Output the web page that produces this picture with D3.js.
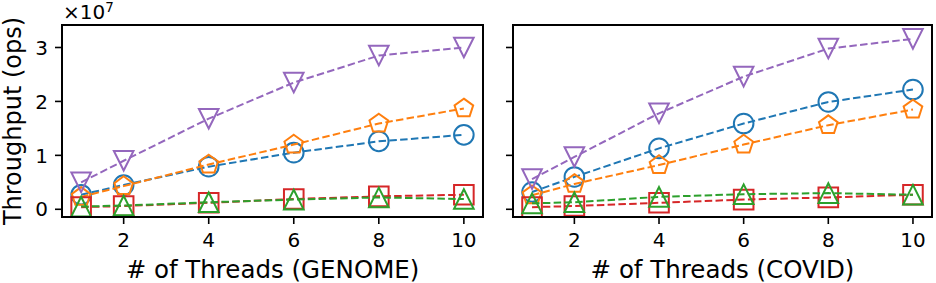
<!DOCTYPE html>
<html>
<head>
<meta charset="utf-8">
<script src="https://cdn.jsdelivr.net/npm/d3@7"></script>
<style>
body { margin: 0; background: #fff; }
svg { display: block; }
</style>
</head>
<body>
<svg width="936" height="283"></svg>
<script>
// threads on x axis
var threads = [1, 2, 4, 6, 8, 10];
var xTicks = [2, 4, 6, 8, 10];
var yTicks = [0, 1, 2, 3];

// throughput in units of 1e7 ops
var genomeBlue   = [0.27, 0.45, 0.79, 1.05, 1.26, 1.38];
var genomeOrange = [0.23, 0.43, 0.83, 1.20, 1.59, 1.87];
var genomeGreen  = [0.05, 0.07, 0.13, 0.18, 0.22, 0.19];
var genomeRed    = [0.04, 0.06, 0.12, 0.19, 0.24, 0.27];
var genomePurple = [0.50, 0.90, 1.68, 2.35, 2.85, 3.00];

var covidBlue   = [0.32, 0.60, 1.13, 1.59, 1.99, 2.22];
var covidOrange = [0.26, 0.47, 0.82, 1.20, 1.56, 1.85];
var covidGreen  = [0.11, 0.13, 0.23, 0.28, 0.30, 0.27];
var covidRed    = [0.04, 0.06, 0.12, 0.18, 0.22, 0.27];
var covidPurple = [0.56, 0.97, 1.78, 2.46, 2.98, 3.16];

var panels = [
  {label: "# of Threads (GENOME)", left: 62, right: 483, showY: true,
   series: [
     {vals: genomeBlue, color: "#1f77b4", marker: "circle"},
     {vals: genomeOrange, color: "#ff7f0e", marker: "pentagon"},
     {vals: genomeRed, color: "#d62728", marker: "square"},
     {vals: genomeGreen, color: "#2ca02c", marker: "up"},
     {vals: genomePurple, color: "#9467bd", marker: "down"}
   ]},
  {label: "# of Threads (COVID)", left: 513, right: 932, showY: false,
   series: [
     {vals: covidBlue, color: "#1f77b4", marker: "circle"},
     {vals: covidOrange, color: "#ff7f0e", marker: "pentagon"},
     {vals: covidRed, color: "#d62728", marker: "square"},
     {vals: covidGreen, color: "#2ca02c", marker: "up"},
     {vals: covidPurple, color: "#9467bd", marker: "down"}
   ]}
];

var plotTop = 25, plotBottom = 217;
var font = "DejaVu Sans, sans-serif";
var ms = 9.8; // half marker size

var y = d3.scaleLinear().domain([-0.143, 3.417]).range([plotBottom, plotTop]);

var svg = d3.select("svg");

var markerPath = function(type)
{
  if (type == "circle") {
    return "M" + ms + ",0A" + ms + "," + ms + " 0 1,1 " + (-ms) + ",0A" + ms + "," + ms + " 0 1,1 " + ms + ",0Z";
  }
  if (type == "square") {
    return "M" + (-ms) + "," + (-ms) + "H" + ms + "V" + ms + "H" + (-ms) + "Z";
  }
  if (type == "up") {
    return "M0," + (-ms) + "L" + ms + "," + ms + "L" + (-ms) + "," + ms + "Z";
  }
  if (type == "down") {
    return "M0," + ms + "L" + ms + "," + (-ms) + "L" + (-ms) + "," + (-ms) + "Z";
  }
  // pentagon
  var pts = [];
  for (var k = 0; k < 5; k++) {
    var a = -Math.PI / 2 + k * 2 * Math.PI / 5;
    pts.push([Math.cos(a) * ms, Math.sin(a) * ms]);
  }
  return "M" + pts.join("L") + "Z";
};

panels.forEach(function(p, pi)
{
  var x = d3.scaleLinear().domain([0.55, 10.45]).range([p.left, p.right]);
  var g = svg.append("g");

  var clipId = "clip" + pi;
  svg.append("clipPath").attr("id", clipId)
    .append("rect")
    .attr("x", p.left).attr("y", plotTop)
    .attr("width", p.right - p.left).attr("height", plotBottom - plotTop);

  var plot = g.append("g").attr("clip-path", "url(#" + clipId + ")");

  var line = d3.line()
    .x(function(d, i) { return x(threads[i]); })
    .y(function(d) { return y(d); });

  p.series.forEach(function(s)
  {
    plot.append("path")
      .datum(s.vals)
      .attr("d", line)
      .attr("fill", "none")
      .attr("stroke", s.color)
      .attr("stroke-width", 2)
      .attr("stroke-dasharray", "7.5,3.3");

    plot.selectAll(null)
      .data(s.vals)
      .enter()
      .append("path")
      .attr("d", markerPath(s.marker))
      .attr("transform", function(d, i) { return "translate(" + x(threads[i]) + "," + y(d) + ")"; })
      .attr("fill", "none")
      .attr("stroke", s.color)
      .attr("stroke-width", 2);
  });

  // x ticks
  var xa = g.append("g");
  xa.selectAll("line")
    .data(xTicks)
    .enter()
    .append("line")
    .attr("x1", function(d) { return x(d); })
    .attr("x2", function(d) { return x(d); })
    .attr("y1", plotBottom)
    .attr("y2", plotBottom + 7)
    .attr("stroke", "#000")
    .attr("stroke-width", 1.6);
  xa.selectAll("text")
    .data(xTicks)
    .enter()
    .append("text")
    .text(function(d) { return d; })
    .attr("x", function(d) { return x(d); })
    .attr("y", 247)
    .attr("text-anchor", "middle")
    .attr("font-family", font)
    .attr("font-size", "20px")
    .attr("fill", "#000");

  // y ticks
  var ya = g.append("g");
  ya.selectAll("line")
    .data(yTicks)
    .enter()
    .append("line")
    .attr("x1", p.left - 7)
    .attr("x2", p.left)
    .attr("y1", function(d) { return y(d); })
    .attr("y2", function(d) { return y(d); })
    .attr("stroke", "#000")
    .attr("stroke-width", 1.6);
  if (p.showY) {
    ya.selectAll("text")
      .data(yTicks)
      .enter()
      .append("text")
      .text(function(d) { return d; })
      .attr("x", p.left - 14)
      .attr("y", function(d) { return y(d); })
      .attr("dy", "0.36em")
      .attr("text-anchor", "end")
      .attr("font-family", font)
      .attr("font-size", "20px")
      .attr("fill", "#000");
  }

  // frame
  g.append("rect")
    .attr("x", p.left)
    .attr("y", plotTop)
    .attr("width", p.right - p.left)
    .attr("height", plotBottom - plotTop)
    .attr("fill", "none")
    .attr("stroke", "#000")
    .attr("stroke-width", 2);

  g.append("text")
    .text(p.label)
    .attr("x", (p.left + p.right) / 2)
    .attr("y", 278)
    .attr("text-anchor", "middle")
    .attr("font-family", font)
    .attr("font-size", "24.5px")
    .attr("fill", "#000");
});

// offset text ×10^7
var off = svg.append("text")
  .attr("x", 63)
  .attr("y", 19)
  .attr("font-family", font)
  .attr("font-size", "20px")
  .attr("fill", "#000");
off.append("tspan").text("\u00d710");
off.append("tspan").text("7").attr("font-size", "13.5px").attr("dy", "-7");

svg.append("text")
  .text("Throughput (ops)")
  .attr("transform", "translate(21,121) rotate(-90)")
  .attr("text-anchor", "middle")
  .attr("font-family", font)
  .attr("font-size", "24px")
  .attr("fill", "#000");
</script>
</body>
</html>
